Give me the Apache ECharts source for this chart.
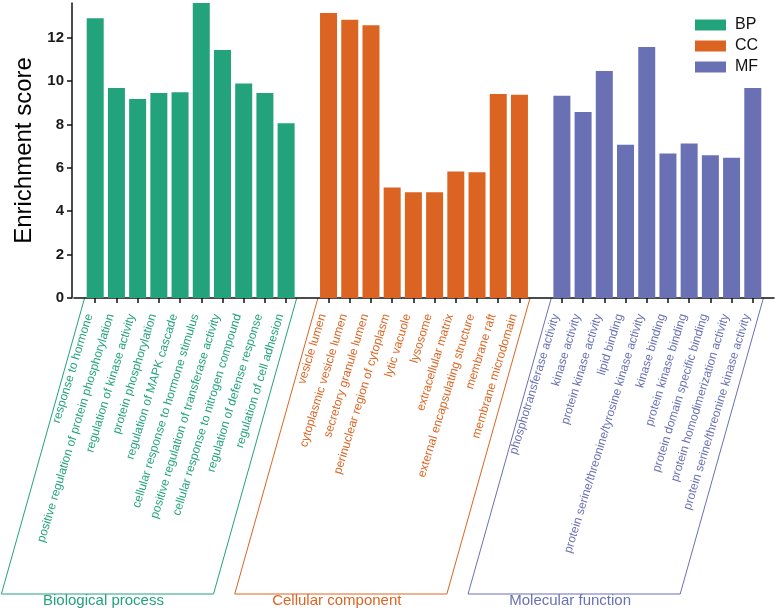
<!DOCTYPE html>
<html><head><meta charset="utf-8">
<script src="https://cdn.jsdelivr.net/npm/echarts@6/dist/echarts.min.js"></script>
<style>html,body{margin:0;padding:0;background:#fff}#c{width:777px;height:611px}</style>
</head><body><div id="c"></div>
<script>
const bpTerms = ['response to hormone','positive regulation of protein phosphorylation','regulation of kinase activity','protein phosphorylation','regulation of MAPK cascade','cellular response to hormone stimulus','positive regulation of transferase activity','cellular response to nitrogen compound','regulation of defense response','regulation of cell adhesion'];
const bpValues = [12.9, 9.68, 9.17, 9.45, 9.48, 13.6, 11.43, 9.89, 9.45, 8.06];
const ccTerms = ['vesicle lumen','cytoplasmic vesicle lumen','secretory granule lumen','perinuclear region of cytoplasm','lytic vacuole','lysosome','extracellular matrix','external encapsulating structure','membrane raft','membrane microdomain'];
const ccValues = [13.14, 12.83, 12.58, 5.09, 4.88, 4.88, 5.83, 5.80, 9.40, 9.37];
const mfTerms = ['phosphotransferase activity','kinase activity','protein kinase activity','lipid binding','protein serine/threonine/tyrosine kinase activity','kinase binding','protein kinase binding','protein domain specific binding','protein homodimerization activity','protein serine/threonine kinase activity'];
const mfValues = [9.32, 8.58, 10.46, 7.07, 11.57, 6.66, 7.12, 6.58, 6.47, 9.68];
const seriesNames = ['BP','CC','MF'];
const groupNames = ['Biological process','Cellular component','Molecular function'];
const colors = ['#22a37b','#dc6422','#6a70b4'];
const yTicks = [0, 2, 4, 6, 8, 10, 12];
const yMax = 13.6;

const groups = [
  {terms: bpTerms, values: bpValues},
  {terms: ccTerms, values: ccValues},
  {terms: mfTerms, values: mfValues}
];
const categories = [''];
const groupOf = [-1];
const valueAt = [null];
groups.forEach((g, gi) => {
  g.terms.forEach((t, i) => { categories.push(t); groupOf.push(gi); valueAt.push(g.values[i]); });
  categories.push(''); groupOf.push(-1); valueAt.push(null);
});

const chart = echarts.init(document.getElementById('c'), null, {renderer: 'canvas'});
const FONT = 'Liberation Sans, Arial, Helvetica, sans-serif';

const option = {
  animation: false,
  backgroundColor: '#ffffff',
  grid: {left: 74, right: 3, top: 3, bottom: 313, containLabel: false, outerBoundsMode: 'none'},
  legend: {
    orient: 'vertical', left: 690, top: 12,
    itemWidth: 31, itemHeight: 11, itemGap: 5,
    icon: 'rect',
    data: seriesNames,
    textStyle: {fontFamily: FONT, fontSize: 16, color: '#111', padding: [0, 0, 0, 4]}
  },
  xAxis: {
    type: 'category',
    data: categories,
    boundaryGap: false,
    axisLine: {show: true, lineStyle: {color: '#111', width: 1.5}},
    axisTick: {show: true, length: 5, lineStyle: {color: '#111', width: 1.5},
      interval: (idx, val) => val !== ''},
    axisLabel: {
      interval: 0, rotate: 73, margin: 18, verticalAlign: 'bottom',
      fontFamily: FONT, fontSize: 12,
      color: (val, idx) => {
        const i = categories.indexOf(val);
        return i >= 0 && groupOf[i] >= 0 ? colors[groupOf[i]] : '#000';
      }
    },
    splitLine: {show: false}
  },
  yAxis: {
    type: 'value', min: 0, max: yMax, interval: 2, offset: 2,
    name: 'Enrichment score', nameLocation: 'middle', nameGap: 30,
    nameTextStyle: {fontFamily: FONT, fontSize: 24, color: '#000'},
    axisLine: {show: true, lineStyle: {color: '#111', width: 1.5}},
    axisTick: {show: true, length: 5, lineStyle: {color: '#111', width: 1.5}, customValues: yTicks},
    axisLabel: {fontFamily: FONT, fontSize: 15, fontWeight: 'bold', color: '#1a1a1a', margin: 8, customValues: yTicks},
    splitLine: {show: false}
  },
  series: seriesNames.map((name, gi) => ({
    name: name,
    type: 'bar',
    barWidth: 17,
    barGap: '-100%',
    itemStyle: {color: colors[gi]},
    data: categories.map((c, i) => groupOf[i] === gi ? valueAt[i] : '-')
  }))
};
chart.setOption(option);

// group brackets (parallelograms) derived from the axis scale
const y0 = chart.convertToPixel({yAxisIndex: 0}, 0);
const bottomY = 594;
const slantDeg = 74.3;
const dx = (bottomY - y0) / Math.tan(slantDeg * Math.PI / 180);
const slot = chart.convertToPixel({xAxisIndex: 0}, 1) - chart.convertToPixel({xAxisIndex: 0}, 0);
const graphics = [];
groupNames.forEach((gname, gi) => {
  const idxs = groupOf.map((g, i) => g === gi ? i : -1).filter(i => i >= 0);
  const xl = chart.convertToPixel({xAxisIndex: 0}, idxs[0]) - slot / 2;
  const xr = chart.convertToPixel({xAxisIndex: 0}, idxs[idxs.length - 1]) + slot / 2;
  graphics.push({
    type: 'polyline', silent: true,
    shape: {points: [[xl, y0], [xl - dx, bottomY], [xr - dx, bottomY], [xr, y0]]},
    style: {stroke: colors[gi], lineWidth: 1, fill: null}
  });
  graphics.push({
    type: 'text', silent: true,
    x: (xl + xr) / 2 - dx - 4, y: bottomY + 7,
    style: {text: gname, fill: colors[gi], font: '15px ' + FONT, textAlign: 'center', textVerticalAlign: 'middle'}
  });
});
chart.setOption({graphic: graphics});
</script>
</body></html>
